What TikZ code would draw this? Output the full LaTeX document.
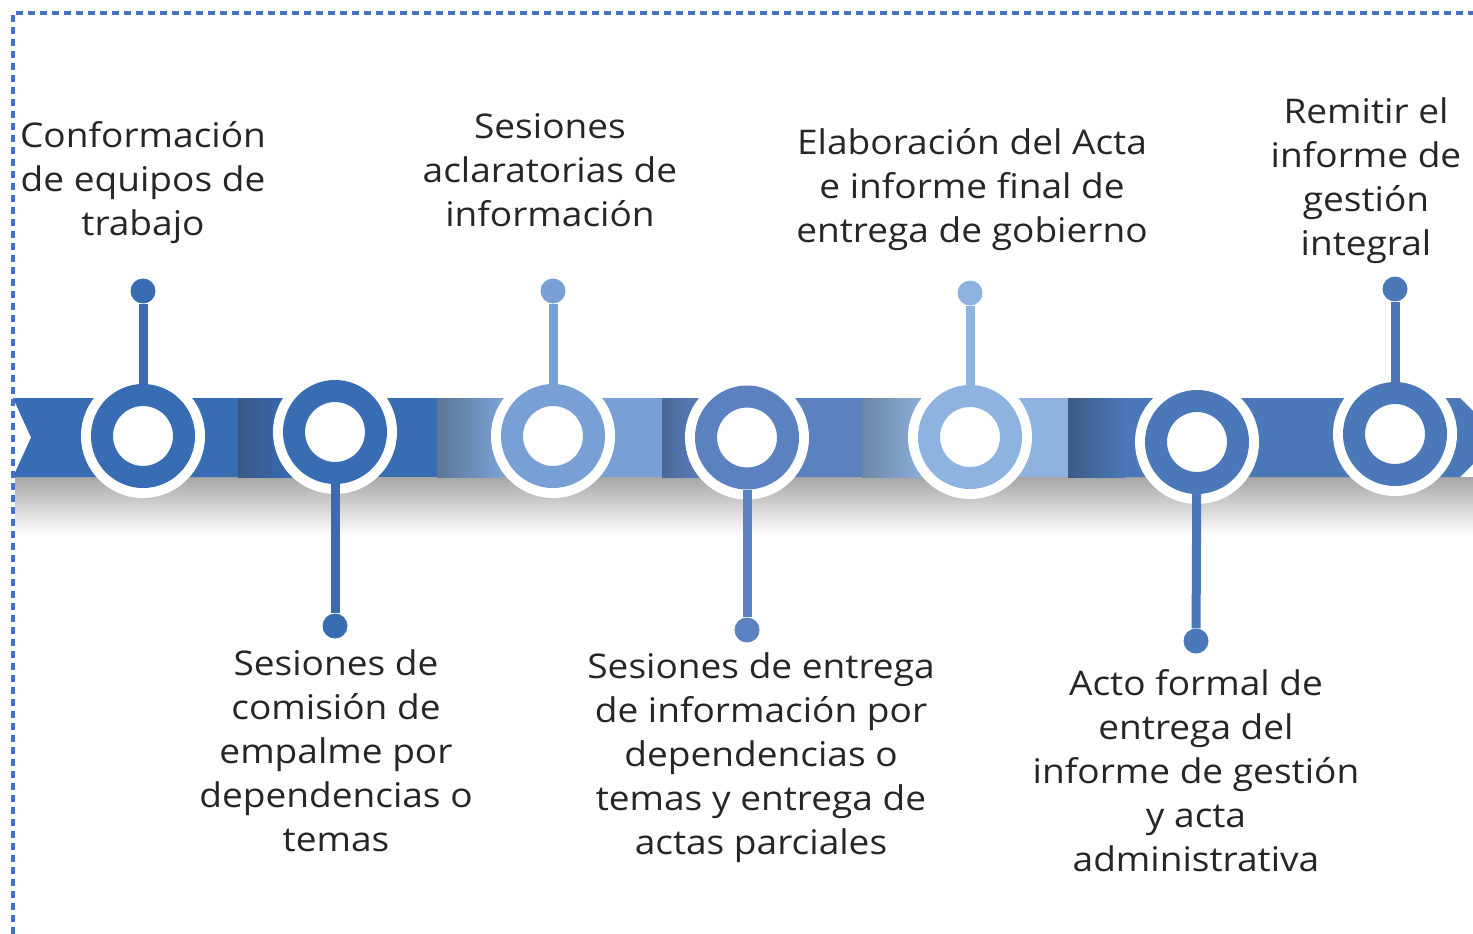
\documentclass[tikz,border=0pt]{standalone}
\usepackage{fontspec}
\setmainfont{Open Sans}[FakeStretch=1.09]
\definecolor{bandA}{HTML}{386CB3}
\definecolor{darkA}{HTML}{3A5887}
\definecolor{bandC}{HTML}{78A0D4}
\definecolor{greyC}{HTML}{5C7699}
\definecolor{bandD}{HTML}{5B81C0}
\definecolor{darkD}{HTML}{4A6696}
\definecolor{bandE}{HTML}{8FB3E0}
\definecolor{greyE}{HTML}{6C87A6}
\definecolor{bandF}{HTML}{4A78B8}
\definecolor{darkF}{HTML}{3E5B86}
\definecolor{shadowgray}{HTML}{A6A6A6}
\definecolor{textgray}{HTML}{262626}
\definecolor{borderblue}{HTML}{4472C4}
\begin{document}
\begin{tikzpicture}[x=1pt,y=-1pt,
  ring/.style={circle, draw=#1, line width=22pt, fill=white, minimum size=82pt, inner sep=0pt,
    preaction={draw=white, line width=42pt}},
  dotnode/.style={circle, fill=#1, minimum size=25pt, inner sep=0pt},
  stem/.style={draw=#1, line width=9pt},
  lbl/.style={align=center, text=textgray, font=\fontsize{34}{44}\selectfont, inner sep=0pt, anchor=base},
  frame/.style={draw=borderblue, line width=3.2pt, dash pattern=on 7pt off 5pt}]
\useasboundingbox (0,0) rectangle (1473,934);
\begin{scope}
\clip (0,0) rectangle (1473,934);
% shadow under the band
\shade[top color=shadowgray, bottom color=white] (15,477) rectangle (1473,535);
% band segments
\fill[bandA] (13,398) -- (238,398) -- (238,477) -- (13,477) -- (31,437.5) -- cycle;
\fill[bandA] (238,398) rectangle (437,477);
\shade[left color=darkA, right color=bandA] (238,398) rectangle (292,477);
\fill[bandC] (437,398) rectangle (662,477);
\shade[left color=greyC, right color=bandC] (437,398) rectangle (500,477);
\fill[bandD] (662,398) rectangle (862,477);
\shade[left color=darkD, right color=bandD] (662,398) rectangle (705,477);
\fill[bandE] (862,398) rectangle (1068,477);
\shade[left color=greyE, right color=bandE] (862,398) rectangle (930,477);
\fill[bandF] (1068,398) -- (1460,398) -- (1500,437.5) -- (1460,477) -- (1068,477) -- cycle;
\shade[left color=darkF, right color=bandF] (1068,398) rectangle (1125,477);
\end{scope}
% frame
\draw[frame] (13,934) -- (13,13) -- (1473,13);
% circles
\node[ring=bandA] (c1) at (143,436) {};
\node[ring=bandA] (c2) at (335,432) {};
\node[ring=bandC] (c3) at (553,436) {};
\node[ring=bandD] (c4) at (747,437.5) {};
\node[ring=bandE] (c5) at (970,437) {};
\node[ring=bandF] (c6) at (1197,442) {};
\node[ring=bandF] (c7) at (1395,434) {};
% dots
\node[dotnode=bandA] (d1) at (143,291) {};
\node[dotnode=bandA] (d2) at (335,626) {};
\node[dotnode=bandC] (d3) at (553,291) {};
\node[dotnode=bandD] (d4) at (747,630) {};
\node[dotnode=bandE] (d5) at (970,293) {};
\node[dotnode=bandF] (d6) at (1196,641) {};
\node[dotnode=bandF] (d7) at (1395,289) {};
% stems
\draw[stem=bandA] (d1) -- (c1);
\draw[stem=bandA] (c2) -- (d2);
\draw[stem=bandC] (d3) -- (c3);
\draw[stem=bandD] (c4) -- (d4);
\draw[stem=bandE] (d5) -- (c5);
\draw[stem=bandF] (c6) -- (d6);
\draw[stem=bandF] (d7) -- (c7);
% labels (anchor = baseline of the last line)
\node[lbl] (t1) at (143,235) {Conformación\\de equipos de\\trabajo};
\node[lbl] (t2) at (336,851) {Sesiones de\\comisión de\\empalme por\\dependencias o\\temas};
\node[lbl] (t3) at (550,226) {Sesiones\\aclaratorias de\\información};
\node[lbl] (t4) at (761,854) {Sesiones de entrega\\de información por\\dependencias o\\temas y entrega de\\actas parciales};
\node[lbl] (t5) at (972,242) {Elaboración del Acta\\e informe final de\\entrega de gobierno};
\node[lbl] (t6) at (1196,871) {Acto formal de\\entrega del\\informe de gestión\\y acta\\administrativa};
\node[lbl] (t7) at (1366,255) {Remitir el\\informe de\\gestión\\integral};
\end{tikzpicture}
\end{document}
